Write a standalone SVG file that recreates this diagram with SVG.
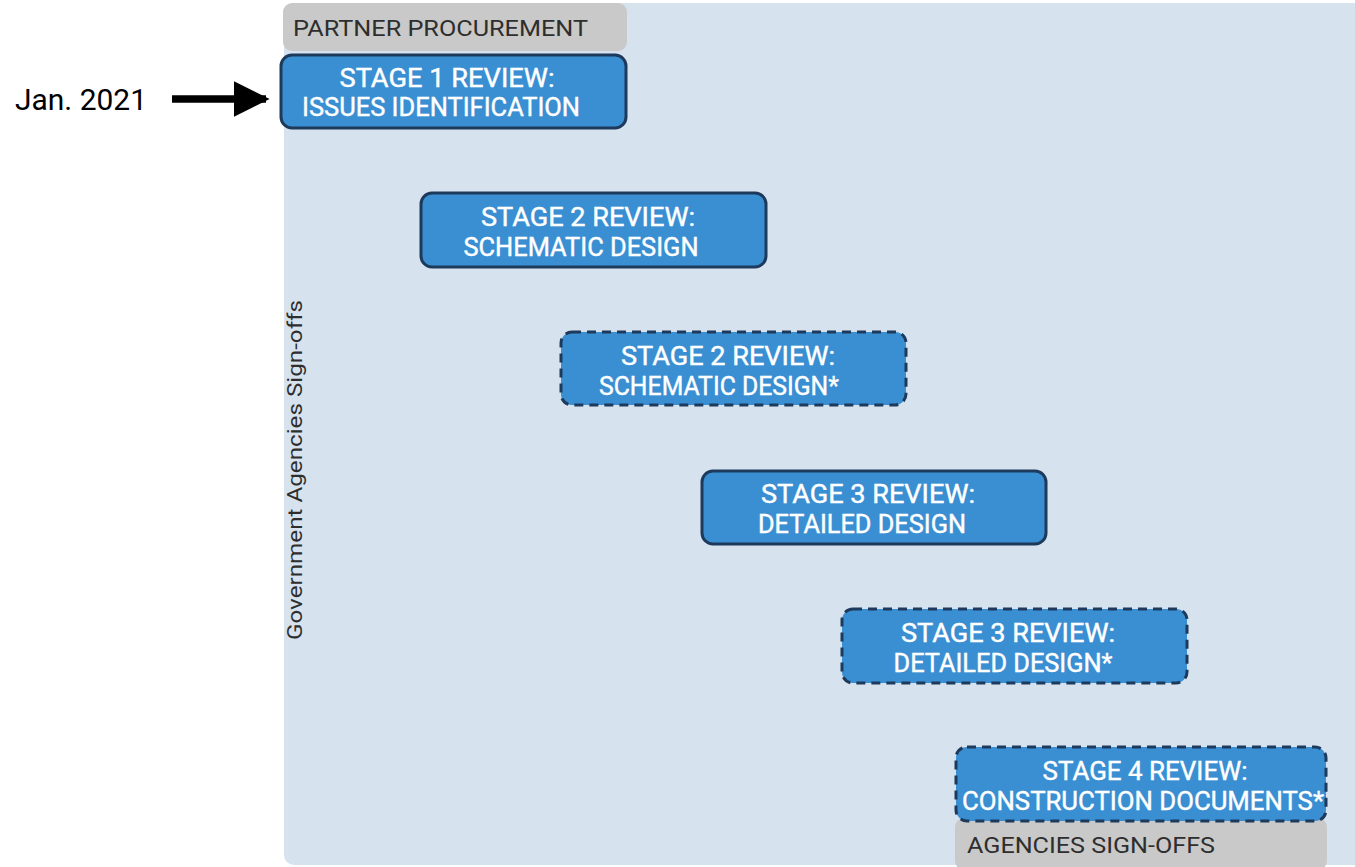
<svg xmlns="http://www.w3.org/2000/svg" width="1355" height="867" viewBox="0 0 1355 867">
<defs>
<style>
.stage{fill:#3a8fd3;stroke:#1d3a5c;stroke-width:3}
.dash{stroke-dasharray:9 6}
.st{font-family:Roboto,"Liberation Sans",sans-serif;font-size:25px;font-weight:400;fill:#ffffff;stroke:#ffffff;stroke-width:0.4;text-anchor:middle}
.gray{fill:#c9c9c9}
.gt{font-family:Roboto,"Liberation Sans",sans-serif;font-size:22px;fill:#2e2e2e}
</style>
<marker id="ah" viewBox="0 0 10 10" refX="9" refY="5" markerWidth="4.8" markerHeight="4.8" orient="auto" markerUnits="strokeWidth">
<path d="M0,0 L10,5 L0,10 Z" fill="#000"/>
</marker>
</defs>
<rect width="1355" height="867" fill="#ffffff"/>
<g id="panel">
<rect x="284" y="3" width="1090" height="862" rx="10" fill="#d6e3ee"/>
<text class="gt" transform="translate(302,470) rotate(-90)" text-anchor="middle" style="font-size:21px" textLength="340" lengthAdjust="spacingAndGlyphs">Government Agencies Sign-offs</text>
</g>
<g id="partner">
<rect class="gray" x="283" y="3" width="344" height="48" rx="9"/>
<text class="gt" x="293" y="36" textLength="295" lengthAdjust="spacingAndGlyphs">PARTNER PROCUREMENT</text>
</g>
<g id="jan">
<text x="15" y="110" font-family="Roboto,'Liberation Sans',sans-serif" font-size="30" fill="#000" textLength="132" lengthAdjust="spacingAndGlyphs">Jan. 2021</text>
</g>
<g id="connectors">
<line x1="172" y1="99" x2="266" y2="99" stroke="#000" stroke-width="7.5" marker-end="url(#ah)"/>
</g>
<g id="stage1">
<rect class="stage" x="281" y="55" width="345" height="73" rx="11"/>
<text class="st" x="447" y="87" textLength="215" lengthAdjust="spacingAndGlyphs">STAGE 1 REVIEW:</text>
<text class="st" x="441" y="116" textLength="278" lengthAdjust="spacingAndGlyphs">ISSUES IDENTIFICATION</text>
</g>
<g id="stage2">
<rect class="stage" x="421" y="193" width="345" height="74" rx="11"/>
<text class="st" x="588" y="226" textLength="214" lengthAdjust="spacingAndGlyphs">STAGE 2 REVIEW:</text>
<text class="st" x="581" y="256" textLength="235" lengthAdjust="spacingAndGlyphs">SCHEMATIC DESIGN</text>
</g>
<g id="stage2b">
<rect class="stage dash" x="561" y="332" width="345" height="73" rx="11"/>
<text class="st" x="728" y="365" textLength="214" lengthAdjust="spacingAndGlyphs">STAGE 2 REVIEW:</text>
<text class="st" x="719" y="395" textLength="240" lengthAdjust="spacingAndGlyphs">SCHEMATIC DESIGN*</text>
</g>
<g id="stage3">
<rect class="stage" x="702" y="471" width="344" height="73" rx="11"/>
<text class="st" x="868" y="503" textLength="214" lengthAdjust="spacingAndGlyphs">STAGE 3 REVIEW:</text>
<text class="st" x="862" y="533" textLength="208" lengthAdjust="spacingAndGlyphs">DETAILED DESIGN</text>
</g>
<g id="stage3b">
<rect class="stage dash" x="842" y="609" width="345" height="74" rx="11"/>
<text class="st" x="1008" y="642" textLength="214" lengthAdjust="spacingAndGlyphs">STAGE 3 REVIEW:</text>
<text class="st" x="1003" y="672" textLength="219" lengthAdjust="spacingAndGlyphs">DETAILED DESIGN*</text>
</g>
<g id="agencies">
<rect class="gray" x="955" y="818" width="372" height="52" rx="9"/>
<text class="gt" x="967" y="853" textLength="248" lengthAdjust="spacingAndGlyphs">AGENCIES SIGN-OFFS</text>
</g>
<g id="stage4">
<rect class="stage dash" x="956" y="747" width="370" height="74" rx="11"/>
<text class="st" x="1145" y="780" textLength="205" lengthAdjust="spacingAndGlyphs">STAGE 4 REVIEW:</text>
<text class="st" x="1143" y="810" textLength="362" lengthAdjust="spacingAndGlyphs">CONSTRUCTION DOCUMENTS*</text>
</g>
</svg>
